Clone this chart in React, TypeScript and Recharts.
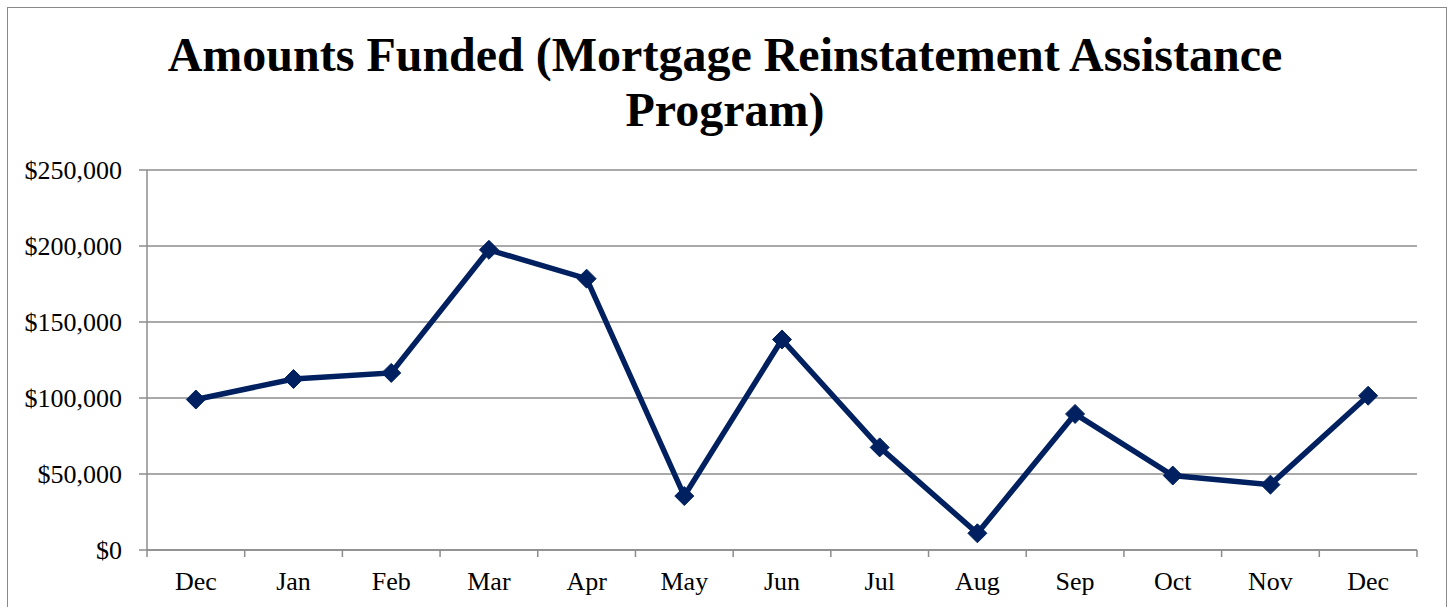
import { LineChart, Line, XAxis, YAxis, CartesianGrid } from "recharts";

const months = ["Dec", "Jan", "Feb", "Mar", "Apr", "May", "Jun", "Jul", "Aug", "Sep", "Oct", "Nov", "Dec"];
const amounts = [99000, 112500, 116500, 197500, 178500, 35500, 138500, 67500, 11000, 89500, 49000, 43000, 101500];
const yTicks = [0, 50000, 100000, 150000, 200000, 250000];

const data = months.map((m, i) => ({ key: i, month: m, amount: amounts[i] }));

const W = 1450;
const H = 607;
const PLOT_LEFT = 147;
const PLOT_RIGHT = 1417;
const PLOT_TOP = 170;
const PLOT_BOTTOM = 550;
const bandW = (PLOT_RIGHT - PLOT_LEFT) / months.length;
const GRID = "#8c8c8c";
const NAVY = "#002060";
const FONT = "'Liberation Serif', 'Times New Roman', serif";

const fmt = (v: number) => "$" + v.toLocaleString("en-US");

function Diamond(props: any) {
  const { cx, cy } = props;
  if (cx == null || cy == null) return null;
  const r = 9.5;
  return (
    <polygon
      points={`${cx},${cy - r} ${cx + r},${cy} ${cx},${cy + r} ${cx - r},${cy}`}
      fill={NAVY}
      stroke={NAVY}
    />
  );
}

function MonthTick(props: any) {
  const { x, y, payload, index } = props;
  const last = index === months.length - 1;
  return (
    <g>
      <line x1={x - bandW / 2} y1={y} x2={x - bandW / 2} y2={y + 7} stroke={GRID} strokeWidth={1.5} />
      {last && <line x1={x + bandW / 2} y1={y} x2={x + bandW / 2} y2={y + 7} stroke={GRID} strokeWidth={1.5} />}
      <text x={x} y={y + 40} textAnchor="middle" fill="#000" fontSize={26} fontFamily={FONT}>
        {months[payload.value]}
      </text>
    </g>
  );
}

export default function App() {
  return (
    <div style={{ position: "absolute", left: 0, top: 0, width: W, height: H, background: "#fff", overflow: "hidden" }}>
      <div
        style={{
          position: "absolute",
          left: 7,
          top: 7,
          width: 1438,
          height: 620,
          border: "1.5px solid #8a8a8a",
        }}
      />
      <div
        style={{
          position: "absolute",
          left: 0,
          top: 27,
          width: W,
          textAlign: "center",
          fontFamily: FONT,
          fontWeight: "bold",
          fontSize: 48,
          lineHeight: "55px",
          color: "#000",
        }}
      >
        Amounts Funded (Mortgage Reinstatement Assistance
        <br />
        Program)
      </div>
      <div style={{ position: "absolute", left: 0, top: 0 }}>
        <LineChart
          width={W}
          height={H}
          data={data}
          margin={{ top: PLOT_TOP, right: W - PLOT_RIGHT, bottom: 0, left: 0 }}
        >
          <CartesianGrid vertical={false} stroke={GRID} strokeWidth={1.5} />
          <XAxis
            dataKey="key"
            type="category"
            scale="band"
            interval={0}
            height={H - PLOT_BOTTOM}
            tickLine={false}
            tickSize={0}
            tickMargin={0}
            axisLine={{ stroke: GRID, strokeWidth: 1.5 }}
            tick={<MonthTick />}
          />
          <YAxis
            domain={[0, 250000]}
            ticks={yTicks}
            interval={0}
            tickFormatter={fmt}
            width={PLOT_LEFT}
            tickSize={8}
            tickMargin={17}
            tickLine={{ stroke: GRID, strokeWidth: 1.5 }}
            axisLine={{ stroke: GRID, strokeWidth: 1.5 }}
            tick={{ fill: "#000", fontSize: 26, fontFamily: FONT }}
          />
          <Line
            dataKey="amount"
            stroke={NAVY}
            strokeWidth={5.5}
            dot={<Diamond />}
            activeDot={false}
            isAnimationActive={false}
          />
        </LineChart>
      </div>
    </div>
  );
}
